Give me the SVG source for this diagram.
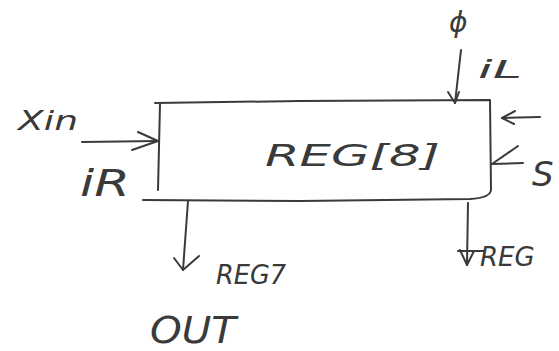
<svg xmlns="http://www.w3.org/2000/svg" width="559" height="351" viewBox="0 0 559 351">
<defs>
<style>
.ln{fill:none;stroke:#3a3a3a;stroke-width:2;stroke-linecap:round;stroke-linejoin:round}
.t{font-family:"DejaVu Sans",sans-serif;fill:#3a3a3a;font-style:italic}
</style>
</defs>
<rect width="559" height="351" fill="#fff"/>
<g id="reg8">
<path class="ln" d="M155,103 L300,101 L490,100 L491,190 Q490,198 470,199 L300,201 L143,200"/>
<path class="ln" d="M160,104 L158,190"/>
<text class="t" x="265" y="166" font-size="30" textLength="175" lengthAdjust="spacingAndGlyphs">REG[8]</text>
</g>
<g id="labels">
<text class="t" x="18" y="130" font-size="26" textLength="60" lengthAdjust="spacingAndGlyphs">Xin</text>
<text class="t" x="80" y="196" font-size="38" textLength="50" lengthAdjust="spacingAndGlyphs">iR</text>
<text class="t" x="449" y="32" font-size="28">ϕ</text>
<text class="t" x="478" y="78" font-size="24" textLength="44" lengthAdjust="spacingAndGlyphs">iL</text>
<text class="t" x="532" y="186" font-size="34">S</text>
<text class="t" x="216" y="284" font-size="26" textLength="70" lengthAdjust="spacingAndGlyphs">REG7</text>
<text class="t" x="150" y="343" font-size="38" textLength="86" lengthAdjust="spacingAndGlyphs">OUT</text>
<text class="t" x="480" y="266" font-size="26">REG</text>
</g>
<g id="connectors">
<path class="ln" d="M82,142 L158,141"/>
<path class="ln" d="M138,132 L158,141 L132,150"/>
<path class="ln" d="M461,50 L455,103"/>
<path class="ln" d="M448,92 L455,103 L459,92"/>
<path class="ln" d="M540,117 L502,118"/>
<path class="ln" d="M515,111 L502,118 L514,124"/>
<path class="ln" d="M523,163 L492,164"/>
<path class="ln" d="M518,146 L492,164"/>
<path class="ln" d="M188,201 L183,270"/>
<path class="ln" d="M174,258 L183,270 L199,256"/>
<path class="ln" d="M468,203 L467,265"/>
<path class="ln" d="M460,250 L467,265 L474,251 M458,251 L484,251"/>
</g>
</svg>
